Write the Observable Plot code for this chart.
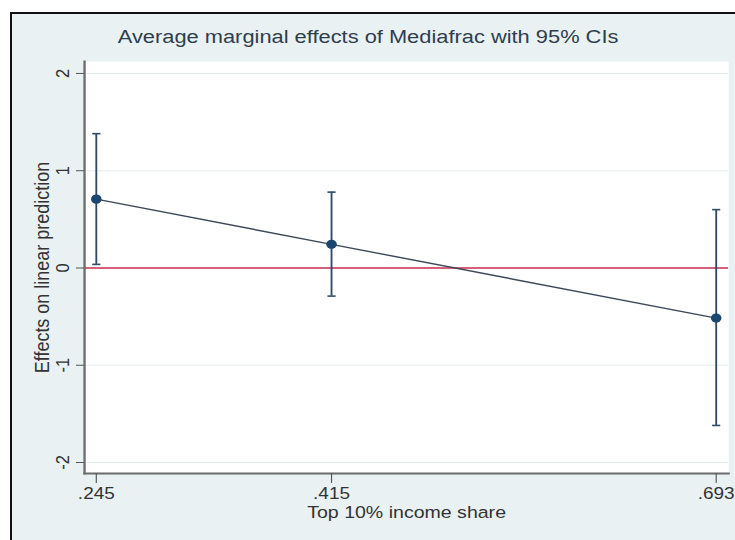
<!DOCTYPE html>
<html>
<head>
<meta charset="utf-8">
<script src="https://cdn.jsdelivr.net/npm/d3@7"></script>
<script src="https://cdn.jsdelivr.net/npm/@observablehq/plot@0.6"></script>
<style>
  html, body { margin: 0; padding: 0; background: #ffffff; width: 735px; height: 540px; overflow: hidden; }
  #bg { position: absolute; left: 10px; top: 12px; width: 740px; height: 560px;
        background: #e9f1f3; border-left: 2px solid #111; border-top: 2px solid #111; }
  #chart { position: absolute; left: 0; top: 0; }
  #chart svg { transform: scaleX(1.1502); transform-origin: 0 0; }
</style>
</head>
<body>
<div id="bg"></div>
<div id="chart"></div>
<script>
// Data
const incomeShare = [0.245, 0.415, 0.693];
const effect      = [0.708, 0.243, -0.515];
const ciLower     = [0.037, -0.289, -1.619];
const ciUpper     = [1.381, 0.780, 0.600];
const xTicks = [0.245, 0.415, 0.693];
const yTicks = [-2, -1, 0, 1, 2];

const titleText = "Average marginal effects of Mediafrac with 95% CIs";
const xTitle = "Top 10% income share";
const yTitle = "Effects on linear prediction";

const rows = incomeShare.map((x, i) => ({x, y: effect[i], lo: ciLower[i], hi: ciUpper[i]}));

const capSymbol = {
  draw(context, size) {
    const w = Math.sqrt(size) * 0.5;
    context.moveTo(-w, 0);
    context.lineTo(w, 0);
  }
};

const navy = "#1a476f";
const font = "'Liberation Sans', Arial, Helvetica, sans-serif";

const plot = Plot.plot({
  width: 639,
  height: 540,
  marginLeft: 73,
  marginRight: 6,
  marginTop: 61,
  marginBottom: 67,
  style: {background: "transparent", fontFamily: font, color: "#333"},
  x: {domain: [0.2365, 0.702], ticks: xTicks},
  y: {domain: [-2.113, 2.123]},
  marks: [
    Plot.frame({fill: "white", stroke: "none"}),
    Plot.ruleY(yTicks, {stroke: "#e4ecee", strokeWidth: 1}),
    Plot.ruleY([0], {stroke: "#cc2c50", strokeWidth: 1.6}),
    Plot.frame({anchor: "left", stroke: "#6b6b6b", strokeWidth: 2}),
    Plot.frame({anchor: "bottom", stroke: "#6b6b6b", strokeWidth: 2}),
    Plot.axisY(yTicks, {tickSize: 7, tickFormat: () => "", stroke: "#555", label: null}),
    Plot.text(yTicks, {y: d => d, text: d => String(d), frameAnchor: "left", dx: -19,
      rotate: -90, textAnchor: "middle", lineAnchor: "middle", fontSize: 16.5, fill: "#333"}),
    Plot.axisX(xTicks, {tickSize: 10, tickPadding: 4, stroke: "#555", fill: "#333",
      tickFormat: d => String(d).replace(/^0/, ""), fontSize: 16.5, label: null}),
    Plot.ruleX(rows, {x: "x", y1: "lo", y2: "hi", stroke: "#2e4a66", strokeWidth: 1.6}),
    Plot.dot(rows, {x: "x", y: "lo", symbol: capSymbol, r: 4, stroke: "#2e4a66", strokeWidth: 1.6, fill: "none"}),
    Plot.dot(rows, {x: "x", y: "hi", symbol: capSymbol, r: 4, stroke: "#2e4a66", strokeWidth: 1.6, fill: "none"}),
    Plot.line(rows, {x: "x", y: "y", stroke: "#3b4858", strokeWidth: 1.4}),
    Plot.dot(rows, {x: "x", y: "y", r: 4.6, fill: navy, stroke: "none"}),
    Plot.text([xTitle], {text: d => d, frameAnchor: "bottom", dy: 39, lineAnchor: "middle",
      fontSize: 17, fill: "#333"}),
    Plot.text([yTitle], {text: d => d, frameAnchor: "left", dx: -36.5, rotate: -90,
      textAnchor: "middle", lineAnchor: "middle", fontSize: 18, fill: "#333"}),
    Plot.text([titleText], {text: d => d, frameAnchor: "top", dx: -33.5, dy: -25, lineAnchor: "middle",
      fontSize: 19, fill: "#2f3e4e"})
  ]
});

document.getElementById("chart").appendChild(plot);
</script>
</body>
</html>
